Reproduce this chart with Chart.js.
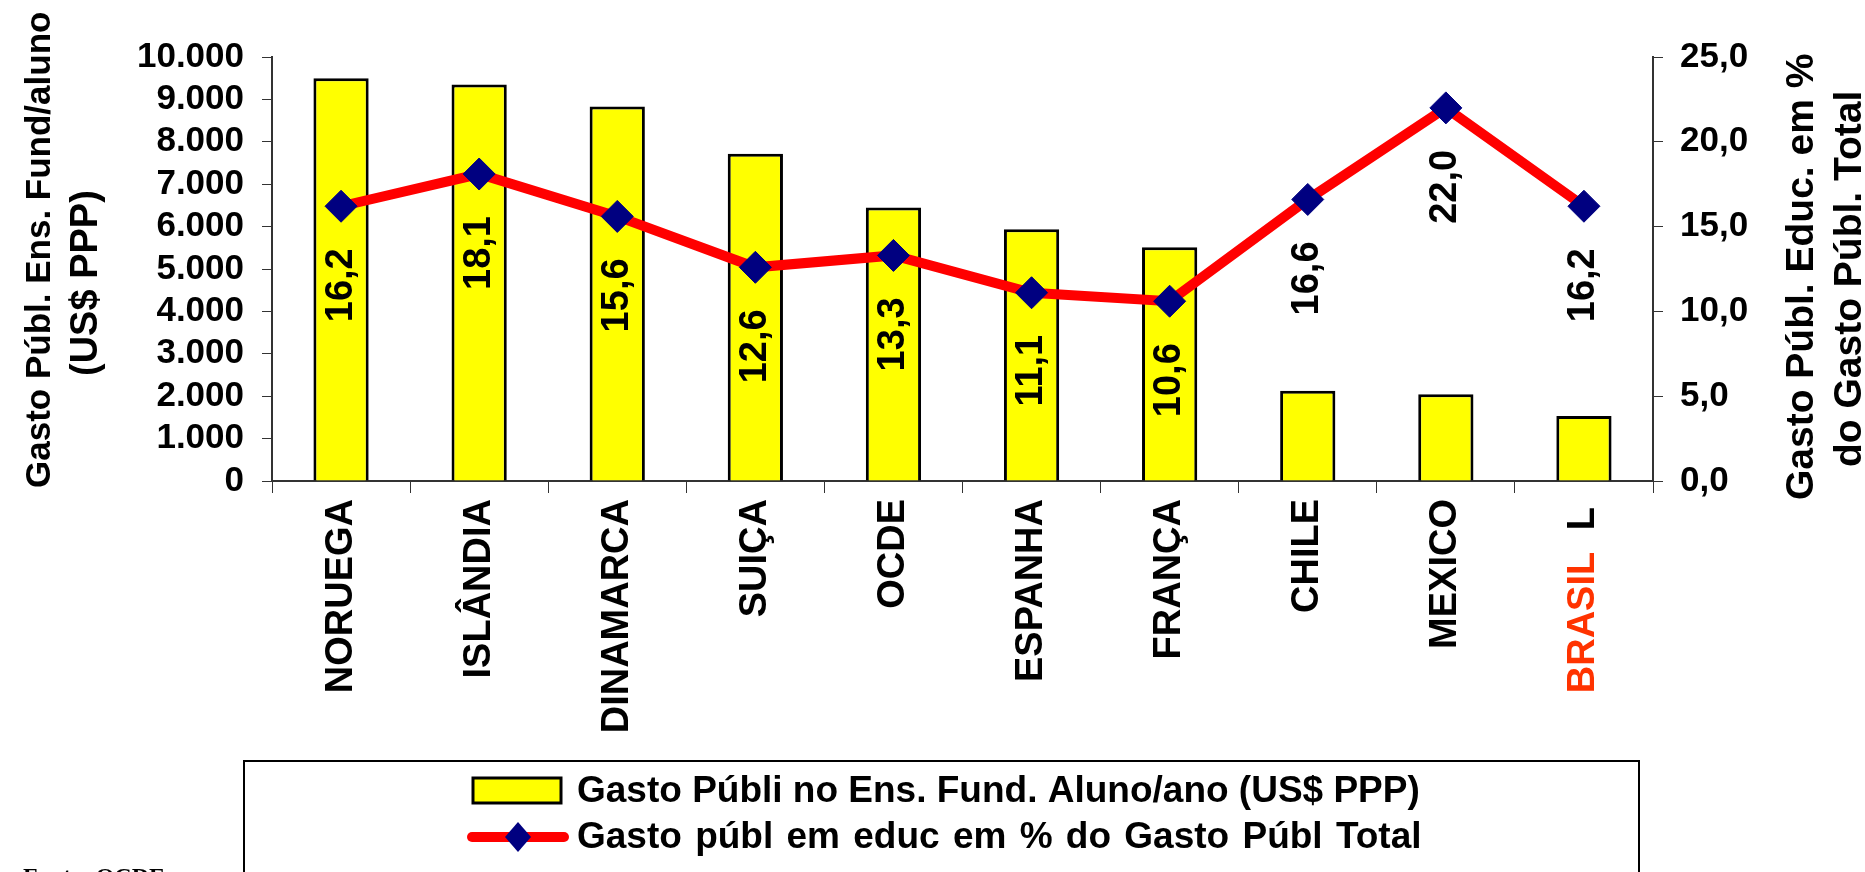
<!DOCTYPE html>
<html>
<head>
<meta charset="utf-8">
<script src="https://cdn.jsdelivr.net/npm/chart.js@4.4.0/dist/chart.umd.min.js"></script>
<style>
  html, body { margin: 0; padding: 0; background: #fff; }
  #wrap { width: 1865px; height: 872px; position: relative; }
</style>
</head>
<body>
<div id="wrap"><canvas id="chart"></canvas></div>
<script>
// dados
const paises = ['NORUEGA', 'ISLÂNDIA', 'DINAMARCA', 'SUIÇA', 'OCDE', 'ESPANHA', 'FRANÇA', 'CHILE', 'MEXICO', 'BRASIL'];
const gastoAluno = [9500, 9350, 8830, 7720, 6450, 5940, 5515, 2130, 2045, 1535];
const gastoPct = [16.2, 18.1, 15.6, 12.6, 13.3, 11.1, 10.6, 16.6, 22.0, 16.2];

const ticksEsq = ['0', '1.000', '2.000', '3.000', '4.000', '5.000', '6.000', '7.000', '8.000', '9.000', '10.000'];
const ticksDir = ['0,0', '5,0', '10,0', '15,0', '20,0', '25,0'];

const tituloEsq = ['Gasto Públ. Ens. Fund/aluno', '(US$ PPP)'];
const tituloDir = ['Gasto Públ. Educ. em %', 'do Gasto Públ. Total'];
const legendaBarra = 'Gasto Públi no Ens. Fund. Aluno/ano (US$ PPP)';
const legendaLinha = 'Gasto públ em educ em % do Gasto Públ Total';
const fonte = 'Fonte: OCDE';
const destaque = 'BRASIL';

const FONT = '"Liberation Sans", Arial, sans-serif';
const AMARELO = '#FFFF00';
const VERMELHO = '#FF0000';
const AZUL = '#000080';

const rotulos = {
  id: 'rotulos',
  afterDatasetsDraw(chart) {
    const ctx = chart.ctx;
    const meta = chart.getDatasetMeta(1);
    ctx.save();
    ctx.font = 'bold 38px ' + FONT;
    ctx.fillStyle = '#000';
    ctx.textAlign = 'right';
    ctx.textBaseline = 'middle';
    meta.data.forEach((pt, i) => {
      ctx.save();
      ctx.translate(pt.x, pt.y + 42);
      ctx.rotate(-Math.PI / 2);
      ctx.fillText(gastoPct[i].toFixed(1).replace('.', ','), 0, 0);
      ctx.restore();
    });
    ctx.restore();
  }
};

// texto girado, lido de baixo para cima, comecando em y
function textoVertical(ctx, texto, x, y, size) {
  ctx.save();
  ctx.font = 'bold ' + size + 'px ' + FONT;
  ctx.fillStyle = '#000';
  ctx.textAlign = 'left';
  ctx.textBaseline = 'alphabetic';
  ctx.translate(x, y);
  ctx.rotate(-Math.PI / 2);
  ctx.fillText(texto, 0, 0);
  ctx.restore();
}

const extras = {
  id: 'extras',
  afterDraw(chart) {
    const ctx = chart.ctx;

    // titulos dos eixos
    textoVertical(ctx, tituloEsq[0], 50, 488, 35);
    textoVertical(ctx, tituloEsq[1], 97, 376, 38);
    textoVertical(ctx, tituloDir[0], 1813, 500, 39);
    textoVertical(ctx, tituloDir[1], 1861, 467, 39);

    // "L" preto acima de BRASIL
    const sx = chart.scales.x;
    const bx = sx.getPixelForValue(paises.indexOf(destaque));
    ctx.save();
    ctx.font = 'bold 38px ' + FONT;
    ctx.fillStyle = '#000';
    ctx.textAlign = 'right';
    ctx.textBaseline = 'middle';
    ctx.translate(bx, sx.top + 26);
    ctx.rotate(-Math.PI / 2);
    ctx.fillText('L', 0, 0);
    ctx.restore();

    // legenda com moldura
    const ds = chart.data.datasets;
    ctx.save();
    ctx.strokeStyle = '#000';
    ctx.lineWidth = 2;
    ctx.strokeRect(244, 761, 1395, 140);

    ctx.fillStyle = ds[0].backgroundColor;
    ctx.fillRect(473, 778, 88, 25);
    ctx.lineWidth = 3;
    ctx.strokeRect(473, 778, 88, 25);

    ctx.strokeStyle = ds[1].borderColor;
    ctx.lineWidth = 10;
    ctx.lineCap = 'round';
    ctx.beginPath();
    ctx.moveTo(472, 837);
    ctx.lineTo(564, 837);
    ctx.stroke();
    ctx.fillStyle = ds[1].pointBackgroundColor;
    ctx.beginPath();
    ctx.moveTo(518, 822);
    ctx.lineTo(531, 837);
    ctx.lineTo(518, 852);
    ctx.lineTo(505, 837);
    ctx.closePath();
    ctx.fill();

    ctx.fillStyle = '#000';
    ctx.font = 'bold 37px ' + FONT;
    ctx.textAlign = 'left';
    ctx.textBaseline = 'middle';
    ctx.fillText(ds[0].label, 577, 792);
    ctx.wordSpacing = '3px';
    ctx.fillText(ds[1].label, 577, 838);
    ctx.wordSpacing = '0px';

    ctx.font = 'bold 24px "Liberation Serif", "Times New Roman", serif';
    ctx.textBaseline = 'top';
    ctx.fillText(fonte, 23, 866);
    ctx.restore();
  }
};

new Chart(document.getElementById('chart'), {
  data: {
    labels: paises,
    datasets: [
      {
        type: 'bar',
        label: legendaBarra,
        data: gastoAluno,
        yAxisID: 'y',
        backgroundColor: AMARELO,
        borderColor: '#000',
        borderWidth: 3,
        barPercentage: 0.4,
        categoryPercentage: 1.0,
        order: 2
      },
      {
        type: 'line',
        label: legendaLinha,
        data: gastoPct,
        yAxisID: 'y1',
        borderColor: VERMELHO,
        borderWidth: 10,
        tension: 0,
        pointStyle: 'rectRot',
        pointRadius: 16,
        pointBackgroundColor: AZUL,
        pointBorderColor: AZUL,
        pointBorderWidth: 1,
        order: 1
      }
    ]
  },
  options: {
    responsive: true,
    maintainAspectRatio: false,
    animation: false,
    layout: { padding: { top: 57, bottom: 0, left: 0, right: 0 } },
    plugins: {
      legend: { display: false },
      tooltip: { enabled: false }
    },
    scales: {
      x: {
        offset: true,
        afterFit: s => { s.height = 391; },
        border: { display: true, color: '#333', width: 2 },
        grid: { drawOnChartArea: false, tickLength: 12, color: '#333', offset: true },
        ticks: {
          autoSkip: false,
          minRotation: 90,
          maxRotation: 90,
          padding: 6,
          font: { family: FONT, size: 38, weight: 'bold' },
          color: c => paises[c.index] === destaque ? '#FF3300' : '#000',
          callback: (v, i) => paises[i] === destaque ? paises[i] + '     ' : paises[i]
        }
      },
      y: {
        position: 'left',
        min: 0,
        max: 10000,
        afterFit: s => { s.width = 272; },
        border: { display: true, color: '#333', width: 2 },
        grid: { drawOnChartArea: false, tickLength: 10, color: '#333' },
        ticks: {
          stepSize: 1000,
          autoSkip: false,
          padding: 18,
          font: { family: FONT, size: 35, weight: 'bold' },
          color: '#000',
          callback: (v, i) => ticksEsq[i]
        }
      },
      y1: {
        position: 'right',
        min: 0,
        max: 25,
        afterFit: s => { s.width = 212; },
        border: { display: true, color: '#333', width: 2 },
        grid: { drawOnChartArea: false, tickLength: 10, color: '#333' },
        ticks: {
          stepSize: 5,
          autoSkip: false,
          padding: 17,
          font: { family: FONT, size: 35, weight: 'bold' },
          color: '#000',
          callback: (v, i) => ticksDir[i]
        }
      }
    }
  },
  plugins: [rotulos, extras]
});
</script>
</body>
</html>
